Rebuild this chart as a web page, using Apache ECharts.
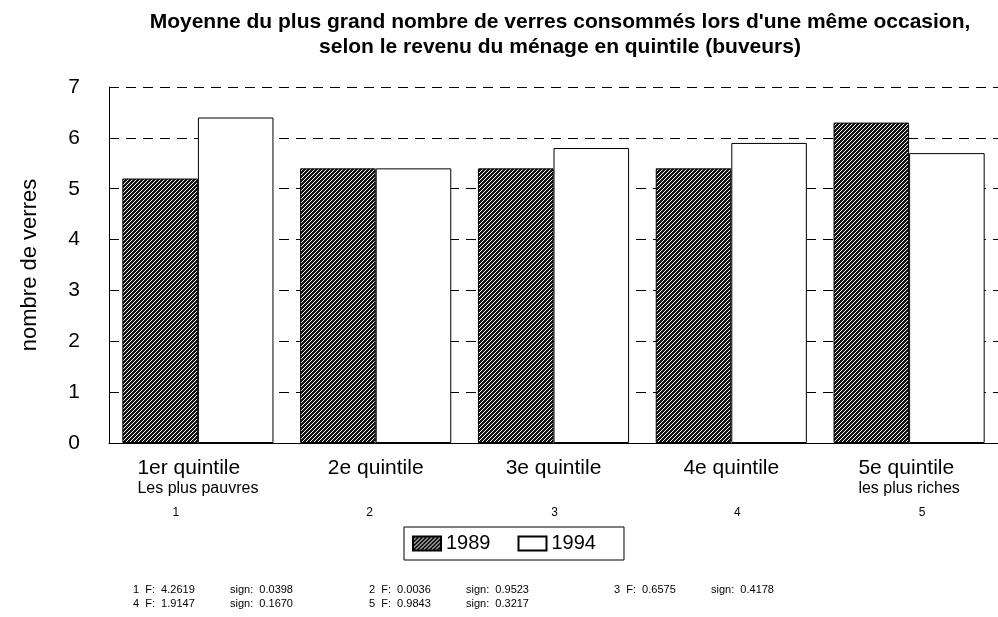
<!DOCTYPE html>
<html>
<head>
<meta charset="utf-8">
<script src="https://cdn.jsdelivr.net/npm/echarts@6/dist/echarts.min.js"></script>
<style>
  html, body { margin: 0; padding: 0; background: #fff; }
  #chart { width: 998px; height: 617px; }
</style>
</head>
<body>
<div id="chart"></div>
<script>
// données
var quintiles = ['1er quintile', '2e quintile', '3e quintile', '4e quintile', '5e quintile']
var sousTitres = ['Les plus pauvres', '', '', '', 'les plus riches']
var numeros = ['1', '2', '3', '4', '5']
var annees = ['1989', '1994']
var v1989 = [5.2, 5.4, 5.4, 5.4, 6.3]
var v1994 = [6.4, 5.4, 5.8, 5.9, 5.7]
var yTicks = [0, 1, 2, 3, 4, 5, 6, 7]
var statF = ['4.2619', '0.0036', '0.6575', '1.9147', '0.9843']
var statSign = ['0.0398', '0.9523', '0.4178', '0.1670', '0.3217']

var FONT = '"Liberation Sans", Arial, Helvetica, sans-serif'

// motif hachuré pour 1989
function makeHatch() {
  var c = document.createElement('canvas')
  c.width = 4
  c.height = 4
  var ctx = c.getContext('2d')
  ctx.fillStyle = '#151515'
  ctx.fillRect(0, 0, 4, 4)
  ctx.fillStyle = '#ffffff'
  for (var i = 0; i < 4; i++) {
    ctx.fillRect(i, 3 - i, 1, 1)
  }
  return c
}

var myChart = echarts.init(document.getElementById('chart'), null, { renderer: 'canvas' })

// décalage des numéros sous les étiquettes
var numOffset = [-22, -6, 1, 6, 13]
var rich = {
  t: { fontSize: 21, fontFamily: FONT, color: '#000', lineHeight: 22, align: 'left' },
  s: { fontSize: 16, fontFamily: FONT, color: '#000', lineHeight: 20, align: 'left' }
}
numOffset.forEach(function (d, i) {
  rich['n' + i] = {
    fontSize: 12, fontFamily: FONT, color: '#000', lineHeight: 28, align: 'center',
    padding: d >= 0 ? [0, 0, 0, 2 * d] : [0, -2 * d, 0, 0]
  }
})

// texte statistique en bas
var statGraphics = []
var colX = [133, 369, 614]
statF.forEach(function (f, i) {
  var x = colX[i % 3]
  var y = i < 3 ? 590 : 604
  statGraphics.push({
    type: 'text', left: x, top: y - 6,
    style: { text: (i + 1) + '  F:  ' + f, font: '11px ' + FONT, fill: '#000' }
  })
  statGraphics.push({
    type: 'text', left: x + 97, top: y - 6,
    style: { text: 'sign:  ' + statSign[i], font: '11px ' + FONT, fill: '#000' }
  })
})

var option = {
  backgroundColor: '#fff',
  animation: false,
  textStyle: { fontFamily: FONT, color: '#000' },
  graphic: [
    {
      type: 'text', x: 560, y: 10,
      style: {
        text: "Moyenne du plus grand nombre de verres consommés lors d'une même occasion,\nselon le revenu du ménage en quintile (buveurs)",
        font: 'bold 21px ' + FONT, fill: '#000', textAlign: 'center', lineHeight: 25
      }
    }
  ].concat(statGraphics),
  legend: {
    data: annees,
    left: 404,
    top: 527,
    orient: 'horizontal',
    icon: 'rect',
    itemWidth: 28,
    itemHeight: 14,
    itemGap: 27,
    padding: [6, 28, 6, 8],
    borderColor: '#000',
    borderWidth: 1,
    textStyle: { fontSize: 20, fontFamily: FONT, color: '#000', lineHeight: 21 }
  },
  grid: {
    left: 109,
    right: -3,
    top: 87,
    bottom: 174,
    containLabel: false
  },
  xAxis: {
    type: 'category',
    data: quintiles,
    axisLine: { show: true, lineStyle: { color: '#000', width: 1 } },
    axisTick: { show: false },
    axisLabel: {
      margin: 14,
      interval: 0,
      formatter: function (value, idx) {
        var sub = sousTitres[idx] ? sousTitres[idx] : ' '
        return '{t|' + value + '}\n{s|' + sub + '}\n{n' + idx + '|' + numeros[idx] + '}'
      },
      rich: rich
    }
  },
  yAxis: {
    type: 'value',
    min: yTicks[0],
    max: yTicks[yTicks.length - 1],
    interval: 1,
    name: 'nombre de verres',
    nameLocation: 'middle',
    nameRotate: 90,
    nameGap: 68,
    nameTextStyle: { fontSize: 22, fontFamily: FONT, color: '#000' },
    axisLine: { show: true, lineStyle: { color: '#000', width: 1 } },
    axisTick: { show: false },
    axisLabel: { fontSize: 21, fontFamily: FONT, color: '#000', margin: 29 },
    splitLine: {
      show: true,
      lineStyle: { color: '#000', width: 1, type: [10, 7] }
    }
  },
  series: [
    {
      name: annees[0],
      type: 'bar',
      data: v1989,
      barGap: '0%',
      barCategoryGap: '15%',
      itemStyle: {
        color: { image: makeHatch(), repeat: 'repeat' },
        borderColor: '#000',
        borderWidth: 1
      }
    },
    {
      name: annees[1],
      type: 'bar',
      data: v1994,
      barGap: '0%',
      barCategoryGap: '15%',
      itemStyle: {
        color: '#fff',
        borderColor: '#000',
        borderWidth: 1
      }
    }
  ]
}

option && myChart.setOption(option)
</script>
</body>
</html>
